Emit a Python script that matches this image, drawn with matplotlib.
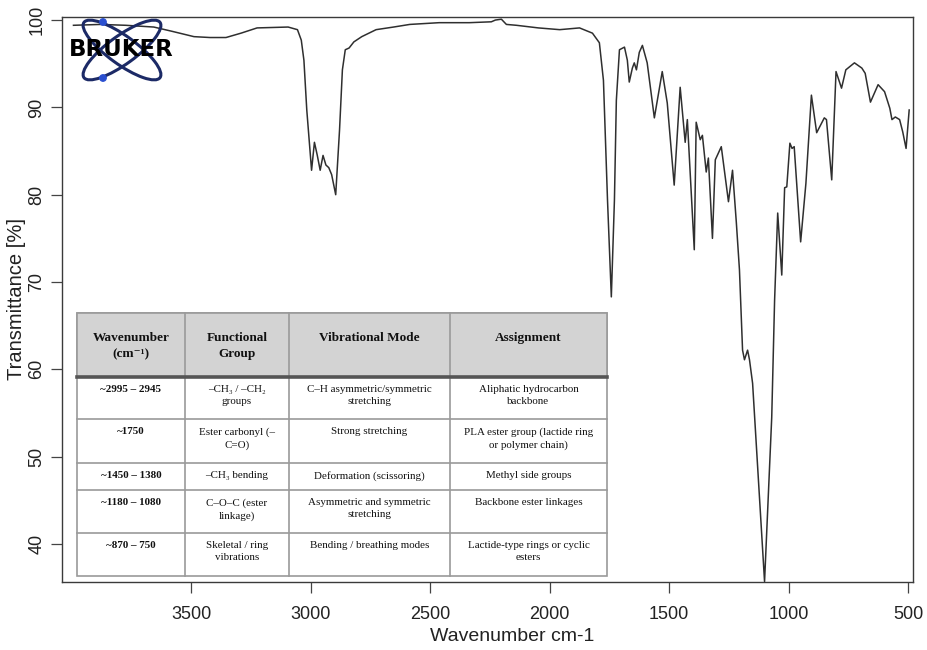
import matplotlib.pyplot as plt
from matplotlib.patches import Ellipse, Circle, Rectangle

plt.rcParams['font.family'] = ['Liberation Sans', 'DejaVu Sans']

# FTIR spectrum (PLA)
wavenumber = [3992, 3879, 3773, 3656, 3578, 3488, 3421, 3354, 3291, 3224, 3094, 3055,
              3039, 3028, 3016, 2996, 2984, 2972, 2960, 2948, 2936, 2924, 2912, 2895,
              2879, 2867, 2855, 2839, 2819, 2786, 2726, 2653, 2585, 2462, 2336, 2244,
              2227, 2202, 2181, 2139, 2047, 1958, 1875, 1821, 1792, 1775, 1758, 1742,
              1729, 1721, 1708, 1687, 1675, 1667, 1654, 1646, 1637, 1625, 1612, 1592,
              1562, 1529, 1508, 1479, 1454, 1433, 1424, 1395, 1387, 1370, 1361, 1345,
              1336, 1319, 1307, 1282, 1252, 1235, 1219, 1206, 1193, 1185, 1172, 1164,
              1151, 1101, 1071, 1059, 1046, 1029, 1017, 1008, 995, 986, 977, 950,
              928, 905, 883, 851, 842, 820, 802, 779, 761, 725, 694, 680,
              658, 626, 599, 577, 568, 554, 536, 523, 509, 496]
transmittance = [99.4, 99.5, 99.4, 99.2, 98.7, 98.1, 98.0, 98.0, 98.5, 99.1, 99.2, 98.9,
                 97.7, 95.4, 89.7, 82.8, 86.0, 84.5, 82.8, 84.5, 83.4, 83.1, 82.3, 80.0,
                 87.4, 94.3, 96.6, 96.8, 97.5, 98.1, 98.9, 99.2, 99.5, 99.7, 99.7, 99.8,
                 100.0, 100.1, 99.5, 99.4, 99.1, 98.9, 99.1, 98.5, 97.4, 93.1, 79.4, 68.3,
                 79.4, 90.8, 96.6, 96.9, 95.4, 92.9, 94.5, 95.1, 94.3, 96.3, 97.1, 95.1,
                 88.8, 94.1, 90.5, 81.1, 92.3, 86.0, 88.6, 73.7, 88.3, 86.3, 86.8, 82.6,
                 84.2, 75.0, 84.0, 85.5, 79.2, 82.8, 76.8, 71.4, 62.2, 61.1, 62.2, 61.1,
                 58.4, 35.7, 54.5, 67.9, 77.9, 70.8, 80.8, 80.9, 85.9, 85.3, 85.5, 74.6,
                 81.3, 91.4, 87.1, 88.8, 88.6, 81.7, 94.1, 92.2, 94.3, 95.1, 94.5, 93.9,
                 90.6, 92.6, 91.8, 89.9, 88.6, 88.9, 88.6, 87.2, 85.3, 89.7]

x_ticks = [3500, 3000, 2500, 2000, 1500, 1000, 500]
y_ticks = [40, 50, 60, 70, 80, 90, 100]

# band assignment table
table_header = ['Wavenumber\n(cm\u207b\u00b9)', 'Functional\nGroup', 'Vibrational Mode', 'Assignment']
table_rows = [
    ['~2995 \u2013 2945', '\u2013CH\u2083 / \u2013CH\u2082\ngroups',
     'C\u2013H asymmetric/symmetric\nstretching', 'Aliphatic hydrocarbon\nbackbone'],
    ['~1750', 'Ester carbonyl (\u2013\nC=O)', 'Strong stretching',
     'PLA ester group (lactide ring\nor polymer chain)'],
    ['~1450 \u2013 1380', '\u2013CH\u2083 bending', 'Deformation (scissoring)', 'Methyl side groups'],
    ['~1180 \u2013 1080', 'C\u2013O\u2013C (ester\nlinkage)', 'Asymmetric and symmetric\nstretching',
     'Backbone ester linkages'],
    ['~870 \u2013 750', 'Skeletal / ring\nvibrations', 'Bending / breathing modes',
     'Lactide-type rings or cyclic\nesters'],
]

fig = plt.figure(figsize=(9.27, 6.5), dpi=100)
ax = fig.add_axes([62 / 927, 1 - 582 / 650, 851 / 927, 565 / 650])

ax.plot(wavenumber, transmittance, color='#2f2f2f', lw=1.1)
ax.set_xlim(4040, 480)
ax.set_ylim(35.65, 100.35)
ax.set_xticks(x_ticks)
ax.set_yticks(y_ticks)
ax.tick_params(direction='out', length=8, width=0.9, color='#444444',
               labelsize=13, labelcolor='#222222')
ax.tick_params(axis='x', pad=9)
ax.tick_params(axis='y', pad=4)
for lab in ax.get_yticklabels():
    lab.set_rotation(90)
    lab.set_va('center')
for s in ax.spines.values():
    s.set_color('#3a3a3a')
    s.set_linewidth(1.0)
ax.set_xlabel('Wavenumber cm-1', fontsize=14, color='#222222')
ax.xaxis.set_label_coords(0.529, -0.081)
ax.set_ylabel('Transmittance [%]', fontsize=14.5, color='#222222')
ax.yaxis.set_label_coords(-0.042, 0.5)

# overlay in pixel units for the logo and the table
ov = fig.add_axes([0, 0, 1, 1])
ov.set_xlim(0, 927)
ov.set_ylim(650, 0)
ov.axis('off')

# Bruker logo
for ang in (36, -36):
    ov.add_patch(Ellipse((122, 50), 94, 28, angle=ang, fill=False,
                         edgecolor='#1c2a66', lw=2.2))
for cy in (22, 78):
    ov.add_patch(Circle((103, cy), 3.2, color='#2a4fd0'))
ov.text(121, 49, 'BRUKER', fontsize=16.5, fontweight='bold', family='DejaVu Sans',
        ha='center', va='center', color='black')

# table
col_edges = [77, 185, 289, 450, 607]
row_edges = [313, 377, 419, 463, 490, 533, 576]
serif = ['Liberation Serif', 'DejaVu Serif']

ov.add_patch(Rectangle((col_edges[0], row_edges[0]), col_edges[-1] - col_edges[0],
                       row_edges[-1] - row_edges[0], facecolor='white',
                       edgecolor='#9a9a9a', lw=1.2))
ov.add_patch(Rectangle((col_edges[0], row_edges[0]), col_edges[-1] - col_edges[0],
                       row_edges[1] - row_edges[0], facecolor='#d3d3d3',
                       edgecolor='#9a9a9a', lw=1.2))
for xe in col_edges[1:-1]:
    ov.plot([xe, xe], [row_edges[0], row_edges[-1]], color='#9a9a9a', lw=1.2)
for ye in row_edges[2:-1]:
    ov.plot([col_edges[0], col_edges[-1]], [ye, ye], color='#9a9a9a', lw=1.2)
ov.plot([col_edges[0], col_edges[-1]], [row_edges[1], row_edges[1]], color='#555555', lw=2.6)

for j, txt in enumerate(table_header):
    xc = (col_edges[j] + col_edges[j + 1]) / 2
    ov.text(xc, row_edges[0] + 19, txt, ha='center', va='top', fontsize=9.5,
            fontweight='bold', family=serif, linespacing=1.5, color='#111111')

for i, row in enumerate(table_rows):
    for j, txt in enumerate(row):
        xc = (col_edges[j] + col_edges[j + 1]) / 2
        ov.text(xc, row_edges[i + 1] + 8, txt, ha='center', va='top', fontsize=7.9,
                fontweight='bold' if j == 0 else 'normal', family=serif,
                linespacing=1.45, color='#111111')

fig.savefig('out.png', dpi=100)
